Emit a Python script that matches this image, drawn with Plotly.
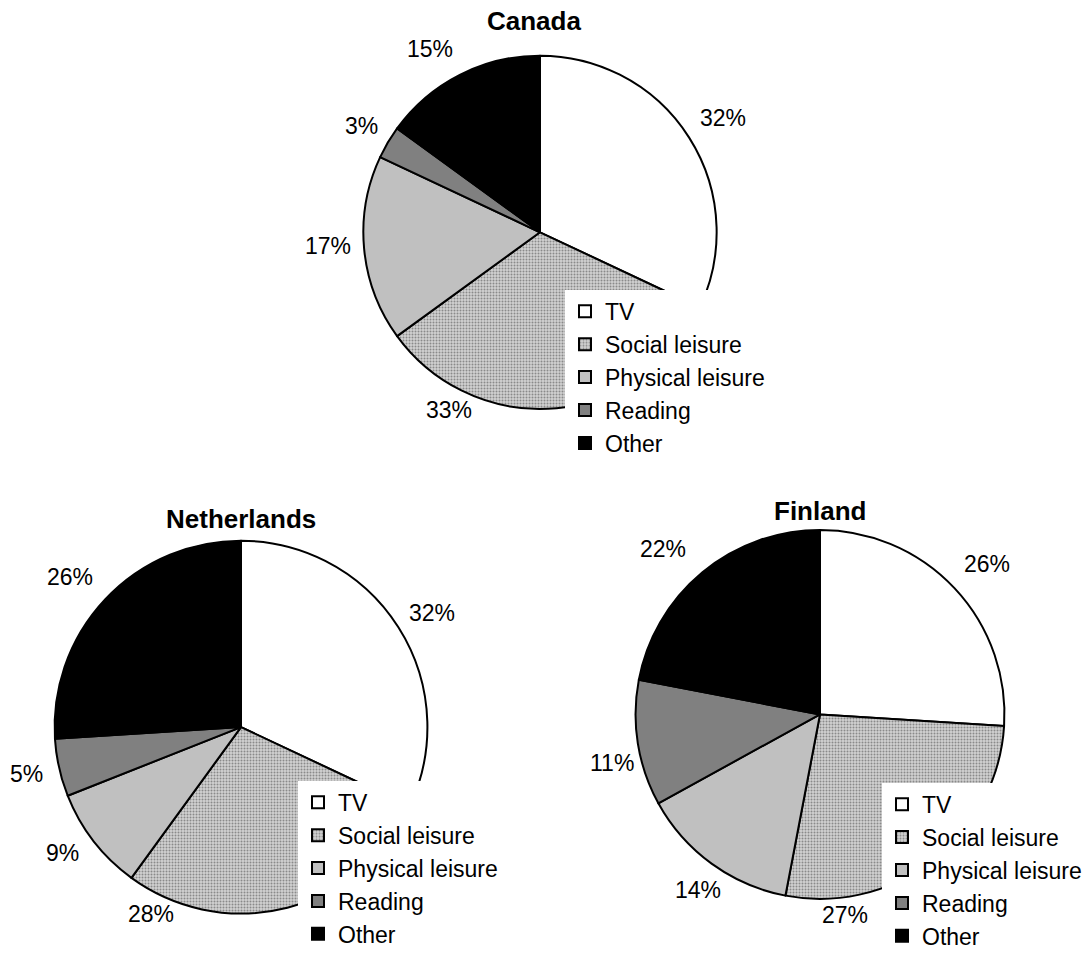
import plotly.graph_objects as go

W, H = 1088, 958

activities = ["TV", "Social leisure", "Physical leisure", "Reading", "Other"]
canada = [32, 33, 17, 3, 15]
netherlands = [32, 28, 9, 5, 26]
finland = [26, 27, 14, 11, 22]

slice_colors = ["#ffffff", "#c4c4c4", "#c0c0c0", "#808080", "#000000"]
pattern_shapes = ["", ".", "", "", ""]

FONT = "Arial, Liberation Sans, sans-serif"

# per-panel layout in pixels: pie centre, radius, title position,
# legend top-left, and the centre of each percentage label
panels = [
    dict(name="Canada", values=canada, cx=540, cy=238, r=181,
         title=(534, 22), legend=(565, 297),
         label_pos=[(723, 121), (449, 420), (328, 252), (361, 129), (430, 50)]),
    dict(name="Netherlands", values=netherlands, cx=241, cy=745, r=191,
         title=(241, 532), legend=(298, 800),
         label_pos=[(432, 628), (151, 936), (62, 874), (26, 793), (70, 591)]),
    dict(name="Finland", values=finland, cx=820, cy=732, r=189,
         title=(820, 524), legend=(882, 802),
         label_pos=[(987, 578), (845, 937), (698, 912), (612, 782), (663, 562)]),
]
legend_ids = ["legend", "legend2", "legend3"]


def px_x(x):
    return x / W


def px_y(y):
    return 1 - y / H


fig = go.Figure()
annotations = []
legends = {}

for p, lid in zip(panels, legend_ids):
    cx, cy, r = p["cx"], p["cy"], p["r"]
    fig.add_trace(go.Pie(
        name=p["name"],
        labels=activities,
        values=p["values"],
        sort=False,
        direction="clockwise",
        rotation=0,
        domain=dict(x=[px_x(cx - r), px_x(cx + r)], y=[px_y(cy + r), px_y(cy - r)]),
        legend=lid,
        legendgroup=p["name"],
        textinfo="none",
        marker=dict(
            colors=slice_colors,
            line=dict(color="#000000", width=2),
            pattern=dict(
                shape=pattern_shapes,
                fgcolor="#8a8a8a",
                bgcolor="#d2d2d2",
                size=3,
                solidity=0.35,
            ),
        ),
        hoverinfo="label+percent",
    ))

    # percentage labels taken from the slice values
    for v, (lx, ly) in zip(p["values"], p["label_pos"]):
        annotations.append(dict(
            text=f"{v}%", x=px_x(lx), y=px_y(ly), xref="paper", yref="paper",
            xanchor="center", yanchor="middle", showarrow=False,
            font=dict(family=FONT, size=23, color="#000000"),
        ))

    tx, ty = p["title"]
    annotations.append(dict(
        text=f"<b>{p['name']}</b>", x=px_x(tx), y=px_y(ty), xref="paper", yref="paper",
        xanchor="center", yanchor="middle", showarrow=False,
        font=dict(family=FONT, size=26, color="#000000"),
    ))

    lx, ly = p["legend"]
    legends[lid] = dict(
        x=px_x(lx), y=px_y(ly), xanchor="left", yanchor="top",
        bgcolor="#ffffff", borderwidth=0,
        font=dict(family=FONT, size=23, color="#000000"),
        traceorder="normal",
    )

fig.update_layout(
    width=W,
    height=H,
    autosize=False,
    margin=dict(l=0, r=0, t=0, b=0),
    paper_bgcolor="#ffffff",
    plot_bgcolor="#ffffff",
    showlegend=True,
    annotations=annotations,
    **legends,
)

fig.write_html("out.html")
